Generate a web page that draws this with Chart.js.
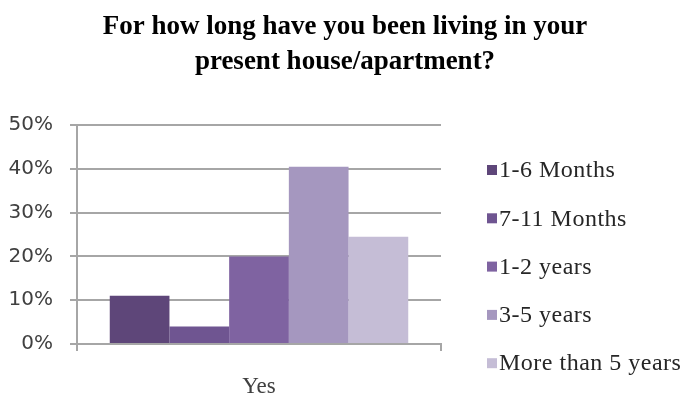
<!DOCTYPE html>
<html>
<head>
<meta charset="utf-8">
<script src="https://cdn.jsdelivr.net/npm/chart.js@4/dist/chart.umd.min.js"></script>
<style>
  html, body { margin: 0; padding: 0; background: #fff; }
  #wrap { width: 684px; height: 398px; }
</style>
</head>
<body>
<div id="wrap"><canvas id="barChart"></canvas></div>
<script>
// survey answers, one bar per duration group
var categories = ["Yes"];
var seriesLabels = ["1-6 Months", "7-11 Months", "1-2 years", "3-5 years", "More than 5 years"];
var seriesValues = [11, 4, 20, 40.5, 24.5];
var seriesColors = ["#5e4679", "#6f5591", "#7f63a1", "#a597bf", "#c5bdd6"];
var yTicks = [0, 10, 20, 30, 40, 50];

var datasets = seriesLabels.map(function (label, i) {
    return {
        label: label,
        data: [seriesValues[i]],
        backgroundColor: seriesColors[i],
        borderWidth: 0,
        yAxisID: 'y',
        categoryPercentage: 0.82,
        barPercentage: 1
    };
});

// legend on the right, drawn by hand so the spacing can be set freely
var sideLegend = {
    id: 'sideLegend',
    afterDraw: function (chart) {
        var ctx = chart.ctx;
        var x = 487, y = 170, step = 48.3;
        ctx.save();
        ctx.font = '24px "Liberation Serif", "Times New Roman", serif';
        ctx.letterSpacing = '0.5px';
        ctx.textBaseline = 'middle';
        chart.data.datasets.forEach(function (ds, i) {
            var cy = y + i * step;
            ctx.fillStyle = ds.backgroundColor;
            ctx.fillRect(x, cy - 5, 10, 10);
            ctx.fillStyle = '#262626';
            ctx.fillText(ds.label, x + 12, cy + 1);
        });
        ctx.restore();
    }
};

var barOptions = {
    responsive: true,
    maintainAspectRatio: false,
    animation: false,
    layout: { padding: { left: 6, right: 0, top: 0, bottom: 0 } },
    plugins: {
        legend: { display: false },
        tooltip: { enabled: false },
        title: {
            display: true,
            text: ["For how long have you been living in your", "present house/apartment?"],
            color: '#000',
            font: { family: '"Liberation Serif", "Times New Roman", serif', size: 27, weight: 'bold', lineHeight: 1.3 },
            padding: { top: 9, bottom: 46 }
        }
    },
    scales: {
        x: {
            offset: true,
            afterFit: function (axis) { axis.height = 54; },
            grid: { display: true, offset: true, drawOnChartArea: false, tickLength: 7, color: '#a6a6a6', lineWidth: 2 },
            border: { display: true, color: '#a6a6a6', width: 2 },
            ticks: {
                color: '#404040',
                padding: 22,
                font: { family: '"Liberation Serif", "Times New Roman", serif', size: 23 }
            }
        },
        y: {
            min: 0,
            max: 50,
            afterBuildTicks: function (axis) {
                axis.ticks = yTicks.map(function (v) { return { value: v }; });
            },
            afterFit: function (axis) { axis.width = 71; },
            grid: { color: '#a6a6a6', lineWidth: 2, tickLength: 7 },
            border: { display: true, color: '#a6a6a6', width: 2 },
            ticks: {
                color: '#404040',
                padding: 17,
                font: { family: '"DejaVu Sans", Verdana, sans-serif', size: 20 },
                callback: function (v) { return v + '%'; }
            }
        },
        // empty axis that keeps room free for the legend
        legendSpace: {
            type: 'linear',
            position: 'right',
            afterFit: function (axis) { axis.width = 243; },
            grid: { display: false },
            border: { display: false },
            ticks: { display: false }
        }
    }
};

var ctx2 = document.getElementById("barChart").getContext("2d");
new Chart(ctx2, {
    type: 'bar',
    data: { labels: categories, datasets: datasets },
    options: barOptions,
    plugins: [sideLegend]
});
</script>
</body>
</html>
